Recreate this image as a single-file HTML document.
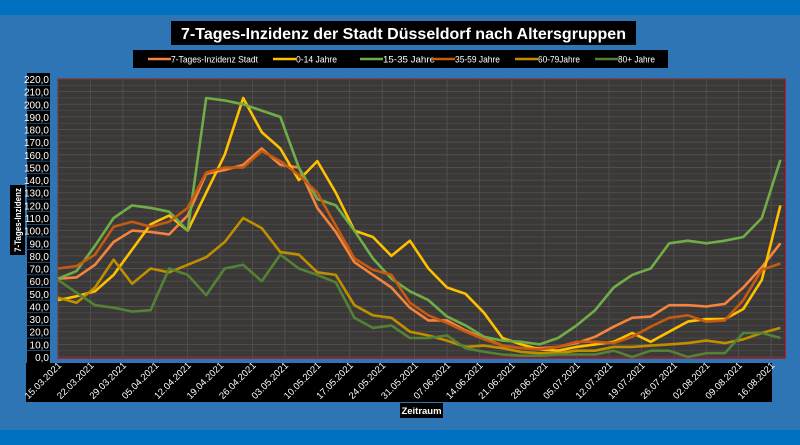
<!DOCTYPE html>
<html><head><meta charset="utf-8">
<style>
body{margin:0;width:800px;height:445px;overflow:hidden;background:#2e75b6;font-family:"Liberation Sans",sans-serif;position:relative}
.band{position:absolute;left:0;width:800px;background:#0070c0}
</style></head><body>
<div class="band" style="top:0;height:15px"></div>
<div class="band" style="top:430px;height:15px"></div>
<svg id="c" width="800" height="445" style="position:absolute;left:0;top:0">
<g>
<rect x="171" y="21" width="465" height="24" fill="#000"/>
<text x="403.5" y="39" fill="#fff" font-size="16" font-weight="bold" text-anchor="middle" textLength="445" lengthAdjust="spacingAndGlyphs" font-family="Liberation Sans">7-Tages-Inzidenz der Stadt Düsseldorf nach Altersgruppen</text>
</g>
</svg>
<script>
const days=[0,4,8,12,16,20,24,28,32,36,40,44,48,52,56,60,64,68,72,76,80,84,88,92,96,100,104,108,112,116,120,124,128,132,136,140,144,148,152,156];
const stadt=[62,63,73,91,100,99,97,112,145,148,152,165,152,150,118,99,75,65,55,39,29,29,21,15,9,7,7,8,11,16,24,31,32,41,41,40,42,55,71,90];
const j0_14=[45,48,52,65,85,105,112,100,130,160,205,178,165,140,155,130,100,95,80,92,70,55,50,35,15,10,6,5,8,10,12,19,12,20,28,30,30,38,61,120];
const j15_35=[62,68,88,110,120,118,115,100,205,203,200,195,190,150,125,120,100,78,62,52,45,32,25,16,13,12,10,15,25,37,55,65,70,90,92,90,92,95,110,156];
const j35_59=[70,72,81,103,107,103,107,118,146,150,150,163,155,144,130,104,78,69,65,43,33,27,20,14,9,7,6,8,12,12,11,16,24,31,33,28,29,45,69,74];
const j60_79=[47,43,55,77,58,70,67,73,79,91,110,102,83,81,67,65,41,33,31,20,17,13,8,9,7,4,3,3,5,5,8,8,9,10,11,13,11,14,19,23];
const j80=[61,51,41,39,36,37,70,65,49,70,73,60,81,70,65,59,31,23,25,15,15,17,7,4,2,1,1,2,2,2,5,0,5,5,0,3,3,19,19,15];
const yTicks=[0,10,20,30,40,50,60,70,80,90,100,110,120,130,140,150,160,170,180,190,200,210,220];
const xLabels=["15.03.2021","22.03.2021","29.03.2021","05.04.2021","12.04.2021","19.04.2021","26.04.2021","03.05.2021","10.05.2021","17.05.2021","24.05.2021","31.05.2021","07.06.2021","14.06.2021","21.06.2021","28.06.2021","05.07.2021","12.07.2021","19.07.2021","26.07.2021","02.08.2021","09.08.2021","16.08.2021"];
const series=[
 {name:"7-Tages-Inzidenz Stadt",data:stadt,color:"#f4843c",key:"stadt"},
 {name:"0-14 Jahre",data:j0_14,color:"#ffc000",key:"0-14"},
 {name:"15-35 Jahre",data:j15_35,color:"#70ad47",key:"15-35"},
 {name:"35-59 Jahre",data:j35_59,color:"#c55a11",key:"35-59"},
 {name:"60-79Jahre",data:j60_79,color:"#bf8f00",key:"60-79"},
 {name:"80+ Jahre",data:j80,color:"#548235",key:"80plus"}];
const L=58,R=785,T=79,B=358,D0=0,D1=157,V1=220;
const X=d=>L+(d-D0)/(D1-D0)*(R-L);
const Y=v=>B-1-v/V1*(B-1-T);
const svg=document.getElementById('c');const NS='http://www.w3.org/2000/svg';
function mk(t,a,p){const e=document.createElementNS(NS,t);for(const k in a)e.setAttribute(k,a[k]);(p||svg).appendChild(e);return e;}
const bg=mk('rect',{x:L,y:T,width:R-L,height:B-T,fill:'#3b3838',stroke:'#c00000','stroke-width':1.2});


for(let v=0;v<=V1;v+=5){const g=mk('line',{x1:L,x2:R,y1:Y(v),y2:Y(v),stroke:v%10?'#4a4747':'#555252','stroke-width':0.8});

}
xLabels.forEach((s,i)=>{const x=X(i*7);const g=mk('line',{x1:x,x2:x,y1:T,y2:B,stroke:'#555252','stroke-width':0.8});

});
yTicks.forEach(v=>{const y=Y(v);
const r=mk('rect',{x:27,y:y-6,width:23,height:12,fill:'#000'});


const t=mk('text',{x:49,y:y+4,fill:'#fff','font-size':10,'text-anchor':'end','font-family':'Liberation Sans'});t.textContent=v.toFixed(1).replace('.',',');

});
const xb=mk('rect',{x:26,y:363,width:746,height:39,fill:'#000'});


xLabels.forEach((s,i)=>{const x=X(i*7)+4;const t=mk('text',{x:x,y:366,fill:'#fff','font-size':9.5,'text-anchor':'end','font-family':'Liberation Sans',transform:`rotate(-45 ${x} 366)`});t.textContent=s;

});
series.forEach(s=>{const p=s.data.map((v,i)=>`${i?'L':'M'}${X(days[i]).toFixed(1)},${Y(v).toFixed(1)}`).join('');
const e=mk('path',{d:p,fill:'none',stroke:s.color,'stroke-width':2.6,'stroke-linejoin':'round'});

});
// legend
const lg=mk('g',{});


mk('rect',{x:133,y:50,width:535,height:18,fill:'#000'},lg);
const lx=[148,273,360,432,515,595];
const lw=[87,41,52,45,42,37];
series.forEach((s,i)=>{const g=mk('g',{},lg);


mk('line',{x1:lx[i],x2:lx[i]+23,y1:59,y2:59,stroke:s.color,'stroke-width':2.6},g);
const t=mk('text',{x:lx[i]+23,y:62.5,fill:'#fff','font-size':9,'font-family':'Liberation Sans',textLength:lw[i],lengthAdjust:'spacingAndGlyphs'},g);t.textContent=s.name;});
// axis titles
const yt=mk('g',{});


mk('rect',{x:10,y:185,width:15,height:70,fill:'#000'},yt);
const ytt=mk('text',{x:21,y:220,fill:'#fff','font-size':9,'font-weight':'bold','text-anchor':'middle','font-family':'Liberation Sans',transform:'rotate(-90 21 220)',textLength:64,lengthAdjust:'spacingAndGlyphs'},yt);ytt.textContent='7-Tages-Inzidenz';
const xt=mk('g',{});


mk('rect',{x:400,y:403,width:43,height:15,fill:'#000'},xt);
const xtt=mk('text',{x:421.5,y:414,fill:'#fff','font-size':9.5,'font-weight':'bold','text-anchor':'middle','font-family':'Liberation Sans'},xt);xtt.textContent='Zeitraum';
</script>
</body></html>
